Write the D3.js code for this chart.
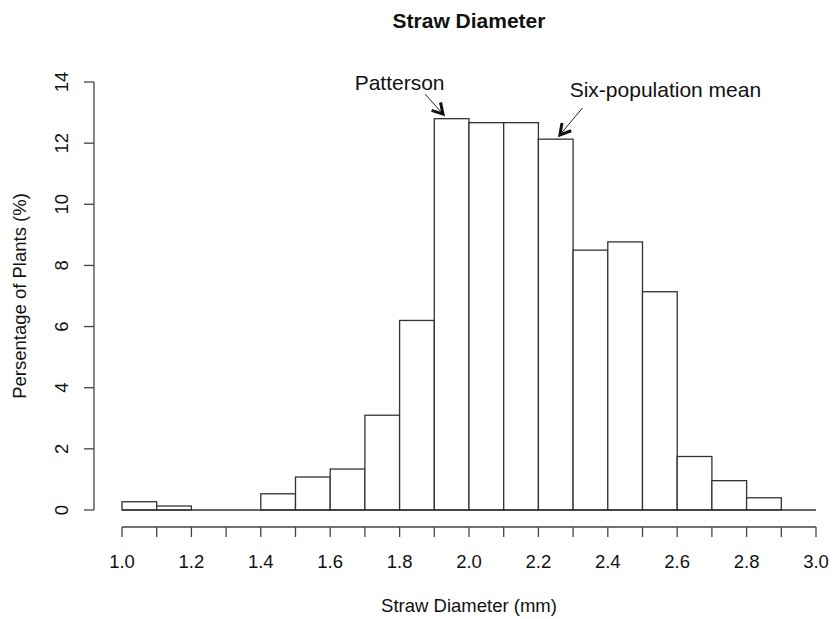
<!DOCTYPE html>
<html>
<head>
<meta charset="utf-8">
<script src="https://cdn.jsdelivr.net/npm/d3@7"></script>
<style>
  body { margin: 0; background: #fff; }
  text { font-family: "Liberation Sans", Arial, Helvetica, sans-serif; fill: #111; }
</style>
</head>
<body>
<div id="wrapper"></div>
<script>
// bins (left edge) and percentage of plants
const binStarts = [1.0, 1.1, 1.2, 1.3, 1.4, 1.5, 1.6, 1.7, 1.8, 1.9, 2.0, 2.1, 2.2, 2.3, 2.4, 2.5, 2.6, 2.7, 2.8, 2.9]
const percents = [0.27, 0.13, 0, 0, 0.53, 1.08, 1.34, 3.1, 6.2, 12.8, 12.67, 12.67, 12.13, 8.5, 8.77, 7.14, 1.75, 0.96, 0.40, 0]
const binWidth = 0.1
const xTicks = [1.0, 1.2, 1.4, 1.6, 1.8, 2.0, 2.2, 2.4, 2.6, 2.8, 3.0]
const xMinorTicks = [1.0, 1.1, 1.2, 1.3, 1.4, 1.5, 1.6, 1.7, 1.8, 1.9, 2.0, 2.1, 2.2, 2.3, 2.4, 2.5, 2.6, 2.7, 2.8, 2.9, 3.0]
const yTicks = [0, 2, 4, 6, 8, 10, 12, 14]

// annotations: label position and arrow from -> to, in data units
const notes = [
  { label: "Patterson", tx: 1.80, ty: 13.75, x1: 1.874, y1: 13.6, x2: 1.925, y2: 12.95 },
  { label: "Six-population mean", tx: 2.566, ty: 13.5, x1: 2.327, y1: 13.15, x2: 2.262, y2: 12.27 }
]

const dimensions = {
  width: 835,
  height: 619,
  margin: { top: 82, right: 18, bottom: 109, left: 122 }
}

const svg = d3.select("#wrapper")
  .append("svg")
  .attr("width", dimensions.width)
  .attr("height", dimensions.height)

const bounds = svg.append("g")
  .attr("transform", `translate(${dimensions.margin.left},${dimensions.margin.top})`)

const xScale = d3.scaleLinear()
  .domain([1.0, 3.0])
  .range([0, 694])

const yScale = d3.scaleLinear()
  .domain([0, 14])
  .range([428, 0])

// bars
bounds.selectAll("rect.bar")
  .data(binStarts.map((b, i) => ({ x0: b, x1: b + binWidth, v: percents[i] })))
  .join("rect")
  .attr("class", "bar")
  .attr("x", d => xScale(d.x0))
  .attr("width", d => xScale(d.x1) - xScale(d.x0))
  .attr("y", d => yScale(d.v))
  .attr("height", d => yScale(0) - yScale(d.v))
  .attr("fill", "white")
  .attr("stroke", "#333")
  .attr("stroke-width", 1.3)

// zero line under the bars (empty bins show as flat line)
bounds.append("line")
  .attr("x1", xScale(1.0)).attr("x2", xScale(3.0))
  .attr("y1", yScale(0)).attr("y2", yScale(0))
  .attr("stroke", "#333").attr("stroke-width", 1.3)

// x axis (offset below the plot, R style)
const xAxis = bounds.append("g")
  .attr("transform", `translate(0, 445)`)
xAxis.append("line")
  .attr("x1", xScale(1.0)).attr("x2", xScale(3.0))
  .attr("stroke", "#444").attr("stroke-width", 1.3)
xAxis.selectAll("line.tick")
  .data(xMinorTicks)
  .join("line")
  .attr("class", "tick")
  .attr("x1", d => xScale(d)).attr("x2", d => xScale(d))
  .attr("y1", 0).attr("y2", 10)
  .attr("stroke", "#444").attr("stroke-width", 1.3)
xAxis.selectAll("text")
  .data(xTicks)
  .join("text")
  .attr("x", d => xScale(d))
  .attr("y", 41)
  .attr("text-anchor", "middle")
  .style("font-size", "18.5px")
  .text(d => d3.format(".1f")(d))

// y axis
const yAxis = bounds.append("g")
  .attr("transform", `translate(-28, 0)`)
yAxis.append("line")
  .attr("y1", yScale(0)).attr("y2", yScale(14))
  .attr("stroke", "#444").attr("stroke-width", 1.3)
yAxis.selectAll("line.tick")
  .data(yTicks)
  .join("line")
  .attr("class", "tick")
  .attr("y1", d => yScale(d)).attr("y2", d => yScale(d))
  .attr("x1", 0).attr("x2", -10)
  .attr("stroke", "#444").attr("stroke-width", 1.3)
yAxis.selectAll("text")
  .data(yTicks)
  .join("text")
  .attr("transform", d => `translate(-26, ${yScale(d)}) rotate(-90)`)
  .attr("text-anchor", "middle")
  .style("font-size", "18.5px")
  .text(d => d)

// titles
svg.append("text")
  .attr("x", dimensions.margin.left + xScale(2.0))
  .attr("y", 28)
  .attr("text-anchor", "middle")
  .style("font-size", "21px")
  .style("font-weight", "bold")
  .text("Straw Diameter")

svg.append("text")
  .attr("x", dimensions.margin.left + xScale(2.0))
  .attr("y", 612)
  .attr("text-anchor", "middle")
  .style("font-size", "18.5px")
  .text("Straw Diameter (mm)")

svg.append("text")
  .attr("transform", `translate(26, ${dimensions.margin.top + yScale(7)}) rotate(-90)`)
  .attr("text-anchor", "middle")
  .style("font-size", "18.5px")
  .text("Persentage of Plants (%)")

// annotations
notes.forEach(n => {
  const x1 = xScale(n.x1), y1 = yScale(n.y1), x2 = xScale(n.x2), y2 = yScale(n.y2)
  const ang = Math.atan2(y2 - y1, x2 - x1)
  const head = 12, spread = Math.PI / 6
  bounds.append("text")
    .attr("x", xScale(n.tx))
    .attr("y", yScale(n.ty))
    .attr("text-anchor", "middle")
    .style("font-size", "21px")
    .text(n.label)
  bounds.append("line")
    .attr("x1", x1).attr("y1", y1).attr("x2", x2).attr("y2", y2)
    .attr("stroke", "#222")
    .attr("stroke-width", 1)
  bounds.append("path")
    .attr("d", `M${x2 - head * Math.cos(ang - spread)},${y2 - head * Math.sin(ang - spread)}` +
      `L${x2},${y2}` +
      `L${x2 - head * Math.cos(ang + spread)},${y2 - head * Math.sin(ang + spread)}`)
    .attr("fill", "none")
    .attr("stroke", "#111")
    .attr("stroke-width", 3)
    .attr("stroke-linejoin", "miter")
})
</script>
</body>
</html>
